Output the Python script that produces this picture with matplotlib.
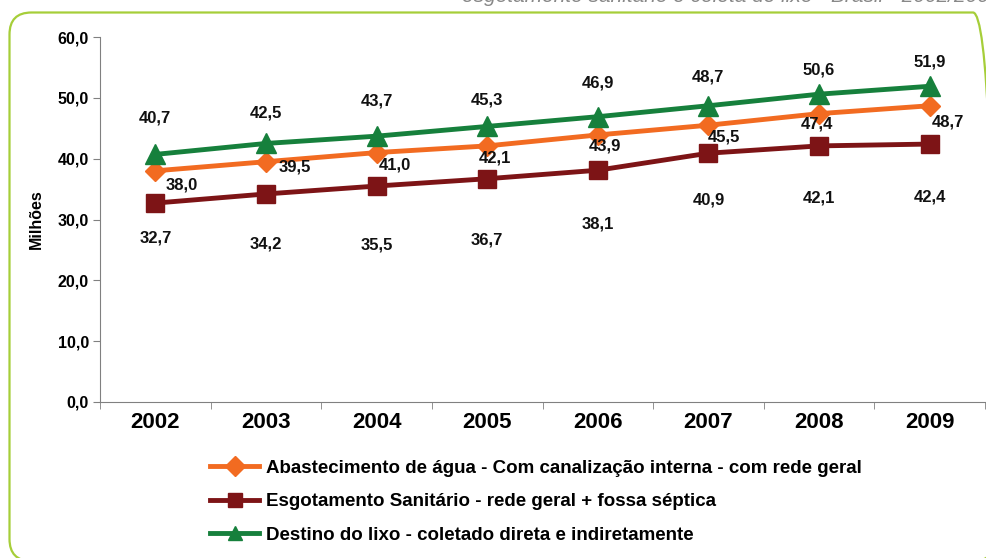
import matplotlib
matplotlib.use("Agg")
import matplotlib.pyplot as plt
from matplotlib.patches import FancyBboxPatch
from matplotlib.transforms import IdentityTransform
import numpy as np

plt.rcParams['font.family'] = ['Liberation Sans', 'DejaVu Sans']

years = ['2002', '2003', '2004', '2005', '2006', '2007', '2008', '2009']
agua = [38.0, 39.5, 41.0, 42.1, 43.9, 45.5, 47.4, 48.7]
esgoto = [32.7, 34.2, 35.5, 36.7, 38.1, 40.9, 42.1, 42.4]
lixo = [40.7, 42.5, 43.7, 45.3, 46.9, 48.7, 50.6, 51.9]
names = ['Abastecimento de água - Com canalização interna - com rede geral',
         'Esgotamento Sanitário - rede geral + fossa séptica',
         'Destino do lixo - coletado direta e indiretamente']
yticks = [0, 10, 20, 30, 40, 50, 60]

c_agua = '#F26B21'
c_esg = '#7D1416'
c_lixo = '#16803C'

W, H = 987, 558
fig = plt.figure(figsize=(W/100, H/100), dpi=100)

# rounded frame (pixel coordinates)
frame = FancyBboxPatch((9.5, -3), 985.5, 548.5,
                       boxstyle="round,pad=0,rounding_size=22",
                       transform=IdentityTransform(), fill=False,
                       edgecolor='#A6CE39', linewidth=1.6, clip_on=False)
fig.patches.append(frame)
fig.text(462/W, 1 - 1.5/H, 'esgotamento sanitário e coleta de lixo - Brasil - 2002/2009',
         fontsize=15, color='#888888', style='italic', va='baseline', ha='left')

ax = fig.add_axes([100/W, 1 - 402/H, 885/W, 365/H])
x = np.arange(len(years))

ax.plot(x, agua, color=c_agua, lw=3.5, marker='D', ms=10, zorder=3, label=names[0])
ax.plot(x, esgoto, color=c_esg, lw=3.5, marker='s', ms=13, zorder=3, label=names[1])
ax.plot(x, lixo, color=c_lixo, lw=3.5, marker='^', ms=14, zorder=3, label=names[2])

off_agua = [(26, -14), (29, -5), (18, -12), (8, -12), (7, -11), (16, -12), (-2, -10), (18, -16)]
off_esg = [(0, -35), (0, -50), (0, -59), (0, -61), (0, -54), (0, -47), (0, -52), (0, -53)]
off_lixo = [(0, 36), (0, 30), (0, 35), (0, 26), (0, 34), (0, 29), (0, 24), (0, 24)]
for vals, offs in ((agua, off_agua), (esgoto, off_esg), (lixo, off_lixo)):
    for i, v in enumerate(vals):
        ax.annotate(f'{v:.1f}'.replace('.', ','), (i, v), xytext=offs[i],
                    textcoords='offset pixels', ha='center', va='center',
                    fontsize=12, fontweight='bold', color='#111111', zorder=4)

ax.set_xlim(-0.5, len(years) - 0.5)
ax.set_ylim(0, 60)
ax.set_yticks(yticks)
ax.set_yticklabels([f'{t:.1f}'.replace('.', ',') for t in yticks], fontsize=11.5, fontweight='bold')
ax.set_xticks(x)
ax.set_xticklabels(years, fontsize=16, fontweight='bold')
ax.set_xticks(np.arange(-0.5, len(years)), minor=True)
ax.tick_params(axis='x', which='major', length=0, pad=7)
ax.tick_params(axis='x', which='minor', length=5, color='#808080')
ax.tick_params(axis='y', length=5, color='#808080', pad=3)
for s in ('top', 'right'):
    ax.spines[s].set_visible(False)
for s in ('left', 'bottom'):
    ax.spines[s].set_color('#808080')
ax.set_ylabel('Milhões', fontsize=11.5, fontweight='bold', labelpad=10)

leg = fig.legend(loc='upper left', bbox_to_anchor=(203/W, 1 - 452/H), frameon=False,
                 prop={'weight': 'bold', 'size': 13.5}, handlelength=2.6,
                 labelspacing=0.88, handletextpad=0.35, borderaxespad=0)
for h in leg.legend_handles:
    h.set_markersize(10)

fig.savefig('out.png', dpi=100)
